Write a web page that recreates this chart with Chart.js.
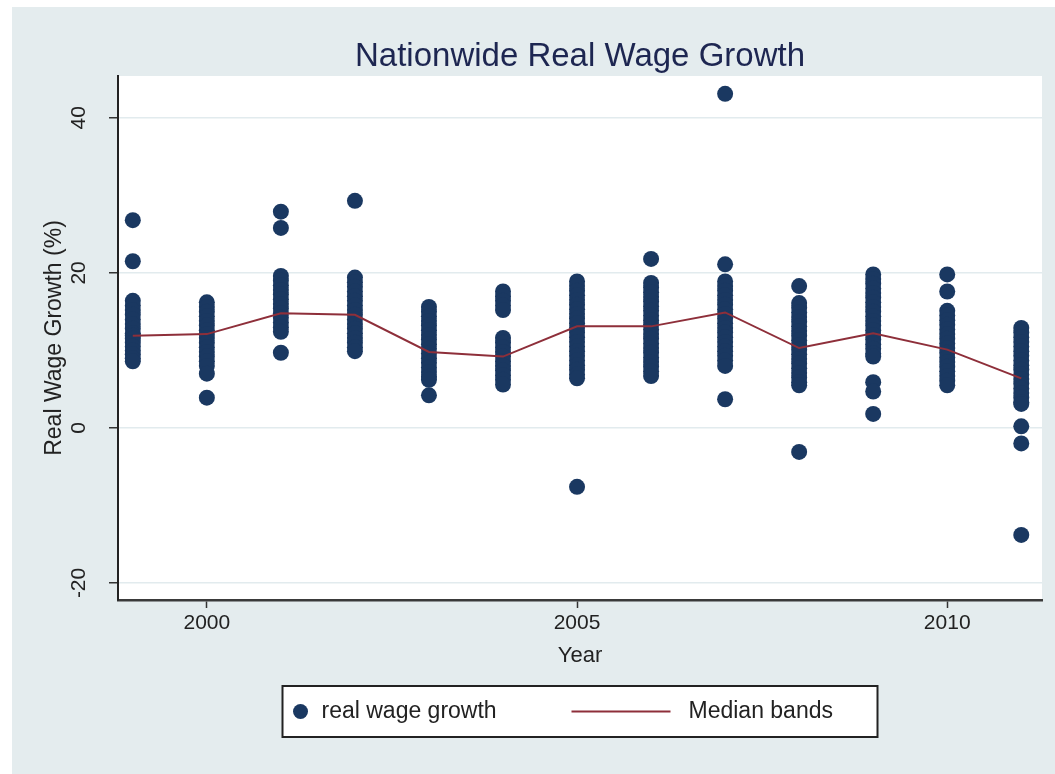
<!DOCTYPE html>
<html>
<head>
<meta charset="utf-8">
<title>Nationwide Real Wage Growth</title>
<script src="https://cdn.jsdelivr.net/npm/chart.js@4.4.1/dist/chart.umd.min.js"></script>
<style>
  html, body { margin: 0; padding: 0; background: #fff; }
  #wrap { width: 1055px; height: 774px; }
</style>
</head>
<body>
<div id="wrap"><canvas id="wageChart" width="1055" height="774"></canvas></div>
<script>
// DATA
const years = [1999, 2000, 2001, 2002, 2003, 2004, 2005, 2006, 2007, 2008, 2009, 2010, 2011];

// real wage growth (%) observations, one list per year
const growth = [
  [26.8, 21.5, 16.4, 15.8, 15.2, 14.6, 14.0, 13.4, 12.8, 12.2, 11.9, 11.5, 11.0, 10.5, 10.0, 9.5, 9.0, 8.6],
  [16.2, 15.6, 15.0, 14.4, 13.8, 13.2, 12.6, 12.1, 11.6, 11.0, 10.4, 9.8, 9.2, 8.6, 8.0, 7.0, 3.9],
  [27.9, 25.8, 19.6, 19.0, 18.4, 17.8, 17.2, 16.6, 16.0, 15.4, 14.8, 14.2, 13.6, 13.0, 12.4, 9.7],
  [29.3, 19.4, 18.8, 18.2, 17.6, 17.0, 16.4, 15.8, 15.2, 14.6, 14.0, 13.4, 12.8, 12.2, 11.6, 11.0, 10.4, 9.9],
  [15.6, 15.0, 14.4, 13.8, 13.2, 12.6, 12.0, 11.4, 10.8, 10.2, 9.6, 9.0, 8.4, 7.8, 7.2, 6.6, 6.2, 4.2],
  [17.6, 17.0, 16.4, 15.8, 15.2, 11.6, 11.0, 10.4, 9.8, 9.2, 8.6, 8.0, 7.4, 6.8, 6.2, 5.6],
  [18.9, 18.3, 17.7, 17.1, 16.5, 15.9, 15.3, 14.7, 14.1, 13.5, 12.9, 12.3, 11.7, 11.1, 10.5, 9.9, 9.3, 8.7, 8.1, 7.5, 6.9, 6.4, -7.6],
  [21.8, 18.7, 18.1, 17.5, 16.9, 16.3, 15.7, 15.1, 14.5, 13.9, 13.3, 12.7, 12.1, 11.5, 10.9, 10.3, 9.7, 9.1, 8.5, 7.9, 7.3, 6.7],
  [43.1, 21.1, 18.9, 18.3, 17.7, 17.1, 16.5, 15.9, 15.3, 14.7, 14.1, 13.5, 12.9, 12.3, 11.7, 11.1, 10.5, 9.9, 9.3, 8.7, 8.0, 3.7],
  [18.3, 16.1, 15.5, 14.9, 14.3, 13.7, 13.1, 12.5, 11.9, 11.3, 10.7, 10.1, 9.5, 8.9, 8.3, 7.7, 7.1, 6.5, 5.9, 5.5, -3.1],
  [19.8, 19.2, 18.6, 18.0, 17.4, 16.8, 16.2, 15.6, 15.0, 14.4, 13.8, 13.2, 12.6, 12.0, 11.4, 10.8, 10.2, 9.6, 9.2, 5.9, 4.7, 1.8],
  [19.8, 17.6, 15.1, 14.5, 13.9, 13.3, 12.7, 12.1, 11.5, 10.9, 10.3, 9.7, 9.1, 8.5, 7.9, 7.3, 6.7, 6.1, 5.5],
  [12.9, 12.3, 11.7, 11.1, 10.5, 9.9, 9.3, 8.7, 8.1, 7.5, 6.9, 6.3, 5.7, 5.1, 4.5, 3.9, 3.3, 3.1, 0.2, -2.0, -13.8]
];

const medians = [11.9, 12.1, 14.8, 14.6, 9.8, 9.2, 13.1, 13.1, 14.9, 10.3, 12.2, 10.1, 6.4];

const xTicks = [2000, 2005, 2010];
const yTicks = [-20, 0, 20, 40];

// STYLE
const FONT = '"Liberation Sans", Arial, sans-serif';
const NAVY = '#1a3861';
const MAROON = '#8e2f3a';
const BG = '#e4ecee';
const INK = '#222222';

// build points
const points = [];
years.forEach((yr, i) => {
    growth[i].forEach(v => points.push({ x: yr, y: v }));
});
const medianLine = years.map((yr, i) => ({ x: yr, y: medians[i] }));

// background, title, rotated y labels and the boxed legend
const stataLook = {
    id: 'stataLook',
    beforeDraw(chart) {
        const { ctx, width, height, chartArea } = chart;
        ctx.save();
        ctx.fillStyle = '#ffffff';
        ctx.fillRect(0, 0, width, height);
        ctx.fillStyle = BG;
        ctx.fillRect(12, 7, width - 12, height - 7);
        ctx.fillStyle = '#ffffff';
        ctx.fillRect(chartArea.left, chartArea.top, chartArea.right - chartArea.left, chartArea.bottom - chartArea.top);
        ctx.restore();
    },
    afterDraw(chart) {
        const { ctx, chartArea } = chart;
        const cx = (chartArea.left + chartArea.right) / 2;
        ctx.save();

        // title
        ctx.fillStyle = '#1d2651';
        ctx.font = '33px ' + FONT;
        ctx.textAlign = 'center';
        ctx.textBaseline = 'middle';
        ctx.fillText('Nationwide Real Wage Growth', cx, 57);

        // y tick labels, rotated like Stata
        const yScale = chart.scales.y;
        ctx.fillStyle = INK;
        ctx.font = '21px ' + FONT;
        yScale.ticks.forEach(t => {
            ctx.save();
            ctx.translate(chartArea.left - 39, yScale.getPixelForValue(t.value));
            ctx.rotate(-Math.PI / 2);
            ctx.fillText(String(t.value), 0, 0);
            ctx.restore();
        });

        // legend box
        const boxW = 595, boxH = 51, boxTop = 686;
        const bx = cx - boxW / 2;
        const my = boxTop + boxH / 2;
        ctx.fillStyle = '#ffffff';
        ctx.fillRect(bx, boxTop, boxW, boxH);
        ctx.strokeStyle = '#222';
        ctx.lineWidth = 2;
        ctx.strokeRect(bx, boxTop, boxW, boxH);

        const ds = chart.data.datasets;
        ctx.fillStyle = ds[0].backgroundColor;
        ctx.beginPath();
        ctx.arc(bx + 18, my, 7.5, 0, Math.PI * 2);
        ctx.fill();

        ctx.fillStyle = INK;
        ctx.font = '23px ' + FONT;
        ctx.textAlign = 'left';
        ctx.fillText(ds[0].label, bx + 39, my);

        ctx.strokeStyle = ds[1].borderColor;
        ctx.lineWidth = 2;
        ctx.beginPath();
        ctx.moveTo(bx + 289, my);
        ctx.lineTo(bx + 388, my);
        ctx.stroke();

        ctx.fillText(ds[1].label, bx + 406, my);
        ctx.restore();
    }
};

const chart = new Chart(document.getElementById('wageChart'), {
    type: 'scatter',
    data: {
        datasets: [
            {
                label: 'real wage growth',
                data: points,
                backgroundColor: NAVY,
                borderWidth: 0,
                pointRadius: 8,
                pointHoverRadius: 8,
                order: 2
            },
            {
                type: 'line',
                label: 'Median bands',
                data: medianLine,
                borderColor: MAROON,
                borderWidth: 2,
                pointRadius: 0,
                fill: false,
                tension: 0,
                order: 1
            }
        ]
    },
    options: {
        responsive: false,
        animation: false,
        layout: { padding: { top: 76, right: 13, left: 0, bottom: 0 } },
        plugins: {
            legend: { display: false },
            title: { display: false },
            tooltip: { enabled: false }
        },
        scales: {
            x: {
                type: 'linear',
                min: 1998.8,
                max: 2011.28,
                afterBuildTicks: s => { s.ticks = xTicks.map(v => ({ value: v })); },
                afterFit: s => { s.height = 174; },
                grid: { drawOnChartArea: false, drawTicks: true, tickLength: 8, tickColor: '#333', tickWidth: 1.5 },
                border: { color: '#3a3a3a', width: 2.5 },
                ticks: {
                    font: { family: FONT, size: 21 },
                    color: INK,
                    padding: 3,
                    maxRotation: 0,
                    callback: v => String(v)
                },
                title: {
                    display: true,
                    text: 'Year',
                    font: { family: FONT, size: 22 },
                    color: INK,
                    padding: { top: 0, bottom: 105 }
                }
            },
            y: {
                min: -22.2,
                max: 45.4,
                afterBuildTicks: s => { s.ticks = yTicks.map(v => ({ value: v })); },
                afterFit: s => { s.width = 118; },
                grid: { color: '#e2ebee', lineWidth: 1.5, drawTicks: true, tickLength: 9, tickColor: '#333', tickWidth: 1.5 },
                border: { color: '#222', width: 2 },
                ticks: { color: 'rgba(0,0,0,0)', font: { family: FONT, size: 21 } },
                title: {
                    display: true,
                    text: 'Real Wage Growth (%)',
                    font: { family: FONT, size: 23 },
                    color: INK,
                    padding: { top: 41, bottom: 0 }
                }
            }
        }
    },
    plugins: [stataLook]
});
</script>
</body>
</html>
